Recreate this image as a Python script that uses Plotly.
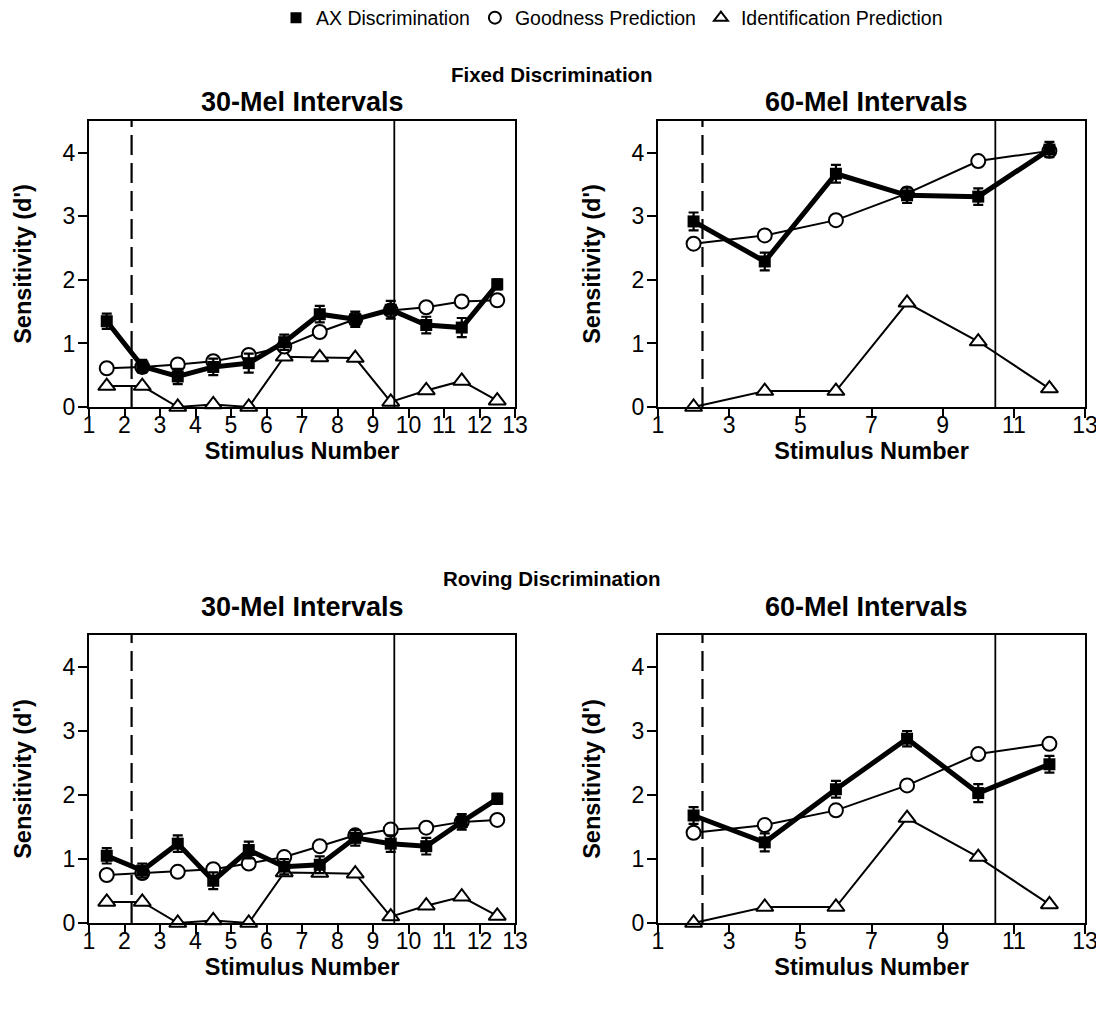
import plotly.graph_objects as go

# ---------------- data ----------------
stim_30 = [1.5, 2.5, 3.5, 4.5, 5.5, 6.5, 7.5, 8.5, 9.5, 10.5, 11.5, 12.5]
stim_60 = [2, 4, 6, 8, 10, 12]

# Fixed discrimination, 30-mel
fixed30_ax = [1.35, 0.64, 0.48, 0.63, 0.69, 1.02, 1.46, 1.38, 1.53, 1.29, 1.25, 1.93]
fixed30_ax_err = [0.12, 0.10, 0.12, 0.13, 0.15, 0.12, 0.13, 0.12, 0.14, 0.13, 0.15, 0.08]
fixed30_good = [0.61, 0.63, 0.67, 0.72, 0.82, 0.95, 1.18, 1.38, 1.52, 1.57, 1.66, 1.68]
fixed30_ident = [0.33, 0.33, 0.0, 0.04, 0.0, 0.79, 0.78, 0.77, 0.08, 0.26, 0.41, 0.10]

# Fixed discrimination, 60-mel
fixed60_ax = [2.92, 2.29, 3.67, 3.33, 3.31, 4.05]
fixed60_ax_err = [0.14, 0.14, 0.14, 0.12, 0.13, 0.12]
fixed60_good = [2.57, 2.70, 2.94, 3.36, 3.87, 4.03]
fixed60_ident = [0.0, 0.25, 0.25, 1.64, 1.03, 0.29]

# Roving discrimination, 30-mel
rov30_ax = [1.05, 0.82, 1.24, 0.66, 1.14, 0.88, 0.91, 1.33, 1.24, 1.20, 1.58, 1.94]
rov30_ax_err = [0.12, 0.11, 0.13, 0.13, 0.13, 0.12, 0.13, 0.12, 0.13, 0.13, 0.12, 0.08]
rov30_good = [0.75, 0.78, 0.80, 0.84, 0.93, 1.03, 1.20, 1.37, 1.46, 1.49, 1.58, 1.61]
rov30_ident = [0.33, 0.33, 0.0, 0.04, 0.0, 0.79, 0.78, 0.77, 0.10, 0.27, 0.41, 0.11]

# Roving discrimination, 60-mel
rov60_ax = [1.68, 1.26, 2.09, 2.88, 2.03, 2.48]
rov60_ax_err = [0.13, 0.14, 0.13, 0.12, 0.14, 0.13]
rov60_good = [1.41, 1.53, 1.76, 2.15, 2.64, 2.80]
rov60_ident = [0.0, 0.25, 0.25, 1.64, 1.03, 0.29]

# category boundaries (dashed, solid)
bound_30 = [2.2, 9.6]
bound_60 = [2.25, 10.48]

y_ticks = [0, 1, 2, 3, 4]
x_ticks_30 = list(range(1, 14))
x_ticks_60 = [1, 3, 5, 7, 9, 11, 13]

section_titles = ["Fixed Discrimination", "Roving Discrimination"]
panel_titles = ["30-Mel Intervals", "60-Mel Intervals"]
legend_names = ["AX Discrimination", "Goodness Prediction", "Identification Prediction"]

# ---------------- layout helpers ----------------
W, H = 1104, 1009
OFF = 8  # page body margin
FONT = "Liberation Sans, Arial, sans-serif"

def fx(p):
    return (p - OFF) / W

def fy(p):
    return 1 - (p - OFF) / H

def px_x(a, b):
    return [fx(a), fx(b)]

def px_y(top, bottom):
    return [fy(bottom), fy(top)]

panels = [
    (1, px_x(89, 515), px_y(121, 407), stim_30, fixed30_ax, fixed30_ax_err, fixed30_good, fixed30_ident, x_ticks_30, bound_30),
    (2, px_x(658, 1085), px_y(121, 407), stim_60, fixed60_ax, fixed60_ax_err, fixed60_good, fixed60_ident, x_ticks_60, bound_60),
    (3, px_x(89, 515), px_y(635, 923), stim_30, rov30_ax, rov30_ax_err, rov30_good, rov30_ident, x_ticks_30, bound_30),
    (4, px_x(658, 1085), px_y(635, 923), stim_60, rov60_ax, rov60_ax_err, rov60_good, rov60_ident, x_ticks_60, bound_60),
]

fig = go.Figure()
layout = dict(
    width=W, height=H,
    margin=dict(l=0, r=0, t=0, b=0, autoexpand=False),
    paper_bgcolor="white", plot_bgcolor="white",
    font=dict(family=FONT, color="black", size=22),
    showlegend=True,
    shapes=[], annotations=[],
)

for idx, xd, yd, stim, ax, err, good, ident, xt, bounds in panels:
    xa = "x" if idx == 1 else f"x{idx}"
    ya = "y" if idx == 1 else f"y{idx}"
    fig.add_trace(go.Scatter(
        x=stim, y=ident, xaxis=xa, yaxis=ya, mode="lines+markers", showlegend=False,
        line=dict(color="black", width=2),
        marker=dict(symbol="triangle-up", size=15, color="white", line=dict(color="black", width=2)),
        cliponaxis=False))
    fig.add_trace(go.Scatter(
        x=stim, y=good, xaxis=xa, yaxis=ya, mode="lines+markers", showlegend=False,
        line=dict(color="black", width=2),
        marker=dict(symbol="circle", size=14, color="white", line=dict(color="black", width=2)),
        cliponaxis=False))
    fig.add_trace(go.Scatter(
        x=stim, y=ax, xaxis=xa, yaxis=ya, mode="lines+markers", showlegend=False,
        line=dict(color="black", width=5),
        marker=dict(symbol="square", size=12, color="black"),
        error_y=dict(type="data", array=err, visible=True, color="black", thickness=2.2, width=5),
        cliponaxis=False))

    key = "" if idx == 1 else str(idx)
    layout[f"xaxis{key}"] = dict(
        domain=xd, anchor=ya, range=[1, 13], tickvals=xt, automargin=False,
        ticks="outside", ticklen=9, tickwidth=2.2, tickcolor="black",
        showline=True, linecolor="black", linewidth=2.2, mirror=True,
        showgrid=False, zeroline=False,
        tickfont=dict(size=23, family=FONT), ticklabelstandoff=-13,
        title=dict(text="<b>Stimulus Number</b>", font=dict(size=23.5, family=FONT), standoff=4),
    )
    layout[f"yaxis{key}"] = dict(
        domain=yd, anchor=xa, range=[0, 4.5], tickvals=y_ticks, automargin=False,
        ticks="outside", ticklen=9, tickwidth=2.2, tickcolor="black",
        showline=True, linecolor="black", linewidth=2.2, mirror=True,
        showgrid=False, zeroline=False,
        tickfont=dict(size=23, family=FONT), ticklabelstandoff=-2,
        title=dict(text="<b>Sensitivity (d')</b>", font=dict(size=23.5, family=FONT), standoff=24),
    )
    layout["shapes"].append(dict(type="line", xref=xa, yref=f"{ya} domain", x0=bounds[0], x1=bounds[0], y0=0, y1=1,
                                 line=dict(color="black", width=2.2, dash="20px,8px")))
    layout["shapes"].append(dict(type="line", xref=xa, yref=f"{ya} domain", x0=bounds[1], x1=bounds[1], y0=0, y1=1,
                                 line=dict(color="black", width=1.8)))

# titles
for i, (sec_y, pan_y) in enumerate([(74, 102), (578, 607)]):
    layout["annotations"].append(dict(text=f"<b>{section_titles[i]}</b>", x=fx(552), y=fy(sec_y),
                                      xref="paper", yref="paper", showarrow=False,
                                      font=dict(size=20.5, family=FONT), xanchor="center", yanchor="middle"))
    for j, cx in enumerate([302, 866]):
        layout["annotations"].append(dict(text=f"<b>{panel_titles[j]}</b>", x=fx(cx), y=fy(pan_y),
                                          xref="paper", yref="paper", showarrow=False,
                                          font=dict(size=27, family=FONT), xanchor="center", yanchor="middle"))

# legend entries (marker only)
legend_styles = [
    dict(symbol="square", size=11, color="black"),
    dict(symbol="circle-open", size=12, color="black", line=dict(width=2)),
    dict(symbol="triangle-up-open", size=12, color="black", line=dict(width=2)),
]
for name, mk in zip(legend_names, legend_styles):
    fig.add_trace(go.Scatter(x=[None], y=[None], mode="markers", name=name, marker=mk, showlegend=True))

layout["legend"] = dict(orientation="h", x=fx(612), xanchor="center", y=fy(18), yanchor="middle",
                        font=dict(size=19.5, family=FONT), itemwidth=30, tracegroupgap=0,
                        bgcolor="rgba(0,0,0,0)")

fig.update_layout(**layout)
fig.write_html("out.html")
